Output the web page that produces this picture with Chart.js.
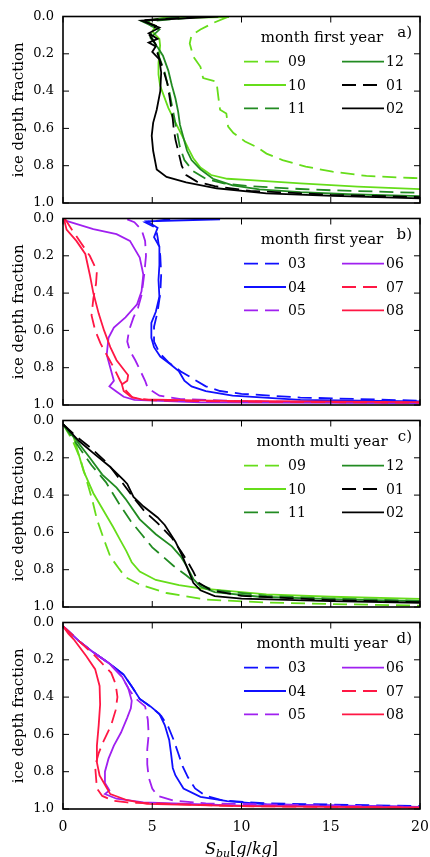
<!DOCTYPE html>
<html>
<head>
<meta charset="utf-8">
<script src="https://cdn.jsdelivr.net/npm/chart.js@4.4.1/dist/chart.umd.min.js"></script>
<style>
  html, body { margin: 0; padding: 0; background: #fff; }
  #wrap { position: relative; width: 430px; height: 857px; overflow: hidden; }
  canvas { position: absolute; left: 0; }
  #xlab { position: absolute; left: 63px; width: 357px; top: 840px; text-align: center;
          font: italic 16px 'DejaVu Serif', serif; line-height: 18px; color: #000; }
  #xlab sub { font-size: 11px; vertical-align: -3px; }
  #xlab .up { font-style: normal; }
</style>
</head>
<body>
<div id="wrap">
  <canvas id="panelA" width="440" height="223" style="top:-2px"></canvas>
  <canvas id="panelB" width="440" height="223" style="top:200px"></canvas>
  <canvas id="panelC" width="440" height="223" style="top:402px"></canvas>
  <canvas id="panelD" width="440" height="233" style="top:604px"></canvas>
  <div id="xlab"><i>S</i><sub><i>bu</i></sub><span class="up">[</span>g<span class="up">/</span>kg<span class="up">]</span></div>
</div>
<script>
// axis ticks
const xTicks = [0, 5, 10, 15, 20];
const yTicks = [0, 0.2, 0.4, 0.6, 0.8, 1.0];

// legend / styling per month
const monthsAutumn = ['09', '10', '11', '12', '01', '02'];
const monthsSpring = ['03', '04', '05', '06', '07', '08'];
const colorsAutumn = ['#66dd1a', '#66dd1a', '#228b22', '#228b22', '#000000', '#000000'];
const colorsSpring = ['#1010ff', '#1010ff', '#a020f0', '#a020f0', '#ff1744', '#ff1744'];
const dashed = [true, false, true, false, true, false];

const panelTitles = ['month first year', 'month first year', 'month multi year', 'month multi year'];
const panelTags = ['a)', 'b)', 'c)', 'd)'];

// profiles: [salinity g/kg, ice depth fraction]
// first year ice, Sep - Feb
const fy09 = [[9.2,0.003],[8.4,0.035],[7.7,0.07],[7.2,0.1],[7.1,0.145],[7.3,0.215],[7.7,0.27],[7.85,0.33],[8.6,0.35],[8.7,0.43],[8.8,0.5],[9.15,0.52],[9.25,0.59],[9.55,0.625],[10.2,0.67],[10.85,0.7],[11.4,0.735],[12.3,0.77],[13.6,0.805],[15.1,0.832],[17.0,0.855],[19.6,0.866],[20.5,0.869]];
const fy10 = [[9.3,0.003],[5.6,0.008],[4.6,0.025],[5.2,0.05],[5.0,0.08],[5.4,0.12],[5.44,0.155],[5.35,0.25],[5.35,0.31],[5.44,0.37],[5.63,0.42],[5.9,0.49],[6.28,0.565],[6.65,0.635],[7.03,0.71],[7.3,0.76],[7.7,0.81],[8.3,0.85],[9.2,0.87],[10.5,0.877],[13.3,0.895],[16.5,0.912],[20.5,0.928]];
const fy11 = [[7.2,0.006],[4.6,0.028],[5.1,0.06],[4.9,0.1],[5.2,0.15],[5.4,0.22],[5.7,0.3],[5.95,0.4],[6.15,0.5],[6.35,0.6],[6.55,0.7],[6.8,0.77],[7.3,0.83],[8.0,0.87],[9.0,0.895],[10.5,0.91],[13.3,0.925],[15.1,0.932],[20.5,0.947]];
const fy12 = [[6.5,0.004],[4.4,0.025],[5.4,0.07],[4.9,0.115],[5.3,0.165],[5.6,0.21],[5.9,0.29],[6.1,0.37],[6.3,0.44],[6.45,0.51],[6.55,0.58],[6.75,0.65],[6.95,0.72],[7.2,0.77],[7.7,0.82],[8.4,0.87],[9.5,0.905],[11,0.927],[13.3,0.942],[16,0.953],[20.5,0.965]];
const fy01 = [[7.7,0.002],[4.4,0.02],[5.2,0.05],[4.85,0.1],[5.2,0.15],[5.3,0.2],[5.6,0.28],[5.85,0.36],[6.0,0.45],[6.15,0.55],[6.2,0.6],[6.3,0.66],[6.5,0.74],[6.65,0.8],[6.9,0.85],[7.5,0.885],[8.5,0.91],[10.5,0.935],[15,0.956],[20.5,0.97]];
const fy02 = [[8.7,0.0],[4.4,0.022],[5.4,0.06],[4.8,0.09],[5.3,0.12],[4.8,0.14],[5.2,0.16],[5.0,0.19],[5.4,0.23],[5.5,0.3],[5.45,0.4],[5.25,0.5],[5.05,0.57],[4.97,0.64],[5.05,0.72],[5.25,0.82],[5.8,0.86],[6.9,0.89],[8.6,0.921],[11.4,0.948],[15.1,0.962],[20.5,0.976]];
// first year ice, Mar - Aug
const fy03 = [[6.0,0.003],[4.6,0.02],[5.2,0.05],[5.3,0.1],[5.45,0.2],[5.5,0.3],[5.45,0.4],[5.3,0.5],[5.1,0.58],[5.1,0.66],[5.4,0.72],[5.9,0.77],[6.6,0.82],[7.3,0.86],[8.0,0.9],[8.8,0.925],[10,0.94],[13.3,0.96],[20.5,0.978]];
const fy04 = [[8.8,0.004],[4.7,0.015],[5.3,0.05],[5.1,0.1],[5.4,0.15],[5.4,0.25],[5.35,0.33],[5.4,0.42],[5.2,0.5],[4.95,0.56],[4.95,0.64],[5.1,0.69],[5.45,0.74],[6.0,0.78],[6.5,0.82],[6.8,0.87],[7.2,0.9],[8.0,0.925],[9.5,0.95],[13.3,0.972],[20.5,0.982]];
const fy05 = [[3.6,0.005],[4.0,0.02],[4.4,0.06],[4.6,0.12],[4.65,0.2],[4.55,0.3],[4.4,0.41],[4.2,0.48],[3.95,0.53],[3.7,0.6],[3.6,0.66],[3.75,0.71],[4.05,0.76],[4.35,0.82],[4.6,0.87],[4.75,0.91],[5.4,0.95],[6.6,0.968],[10,0.98],[20.5,0.99]];
const fy06 = [[0.1,0.01],[1.7,0.057],[3.0,0.084],[3.75,0.12],[4.3,0.21],[4.5,0.3],[4.4,0.39],[4.15,0.46],[3.5,0.53],[2.85,0.585],[2.55,0.64],[2.45,0.73],[2.65,0.8],[2.85,0.87],[2.6,0.9],[2.95,0.925],[3.4,0.956],[4.0,0.972],[7.7,0.986],[20.5,0.99]];
const fy07 = [[0.1,0.0],[0.5,0.06],[1.0,0.13],[1.5,0.2],[1.9,0.28],[1.85,0.35],[1.7,0.43],[1.6,0.52],[1.8,0.6],[2.1,0.67],[2.5,0.74],[2.85,0.8],[3.2,0.87],[3.5,0.92],[3.9,0.96],[5,0.975],[10,0.982],[20.5,0.988]];
const fy08 = [[0.05,0.0],[0.2,0.06],[0.75,0.12],[1.25,0.19],[1.5,0.3],[1.7,0.4],[2.0,0.51],[2.3,0.6],[2.65,0.69],[3.0,0.76],[3.4,0.81],[3.65,0.84],[3.6,0.87],[3.3,0.89],[3.4,0.925],[3.8,0.956],[4.4,0.97],[9,0.978],[20.5,0.985]];
// multi year ice, Sep - Feb
const my09 = [[0,0.02],[0.5,0.1],[0.95,0.2],[1.35,0.33],[1.65,0.43],[1.9,0.53],[2.3,0.64],[2.65,0.73],[3.1,0.79],[3.5,0.84],[4.3,0.88],[5.8,0.925],[8,0.96],[11.4,0.976],[15,0.984],[20.5,0.994]];
const my10 = [[0,0.02],[0.6,0.09],[1.15,0.27],[1.7,0.39],[2.25,0.48],[2.8,0.57],[3.2,0.64],[3.55,0.7],[3.85,0.76],[4.3,0.81],[5.2,0.855],[6.5,0.883],[7.7,0.9],[11.4,0.932],[15,0.945],[20.5,0.958]];
const my11 = [[0,0.02],[0.8,0.13],[1.6,0.24],[2.4,0.33],[3.1,0.44],[3.8,0.54],[4.4,0.61],[5.0,0.68],[5.6,0.73],[6.2,0.78],[6.9,0.83],[7.4,0.87],[8.5,0.91],[11.4,0.94],[15,0.955],[20.5,0.968]];
const my12 = [[0,0.02],[0.7,0.1],[1.5,0.2],[2.2,0.29],[3.0,0.36],[3.5,0.42],[4.3,0.53],[5.2,0.61],[6.1,0.675],[6.6,0.73],[6.95,0.785],[7.3,0.85],[7.7,0.89],[8.5,0.92],[11,0.945],[15,0.958],[20.5,0.97]];
const my01 = [[0,0.02],[0.8,0.09],[1.6,0.15],[2.5,0.23],[3.3,0.33],[4.0,0.42],[4.6,0.49],[5.3,0.55],[6.1,0.63],[6.6,0.7],[7.0,0.76],[7.3,0.81],[7.6,0.87],[8.3,0.91],[10,0.94],[15,0.963],[20.5,0.975]];
const my02 = [[0,0.02],[0.9,0.11],[1.7,0.175],[2.6,0.245],[3.4,0.32],[3.6,0.34],[3.95,0.41],[4.5,0.46],[5.3,0.52],[5.7,0.56],[6.3,0.65],[6.7,0.73],[7.05,0.81],[7.3,0.87],[7.7,0.91],[8.5,0.942],[10,0.955],[15,0.968],[20.5,0.978]];
// multi year ice, Mar - Aug
const my03 = [[0,0.02],[0.9,0.1],[1.7,0.16],[2.6,0.22],[3.4,0.28],[3.9,0.35],[4.3,0.41],[4.9,0.45],[5.5,0.5],[5.9,0.56],[6.2,0.63],[6.45,0.7],[6.7,0.77],[7.0,0.83],[7.4,0.89],[8.0,0.93],[9.0,0.955],[11.4,0.97],[20.5,0.985]];
const my04 = [[0,0.02],[0.9,0.1],[1.7,0.16],[2.6,0.22],[3.4,0.28],[3.9,0.35],[4.3,0.41],[4.9,0.45],[5.4,0.49],[5.7,0.55],[5.95,0.63],[6.05,0.7],[6.15,0.78],[6.3,0.82],[6.75,0.89],[7.7,0.935],[9.2,0.958],[11.4,0.975],[20.5,0.99]];
const my05 = [[0,0.02],[0.9,0.1],[1.7,0.16],[2.6,0.22],[3.3,0.29],[3.7,0.36],[4.1,0.41],[4.6,0.45],[4.75,0.52],[4.8,0.6],[4.72,0.68],[4.72,0.76],[4.8,0.83],[5.0,0.89],[5.3,0.93],[6.2,0.955],[8,0.97],[20.5,0.99]];
const my06 = [[0,0.02],[0.9,0.1],[1.7,0.16],[2.6,0.22],[3.3,0.29],[3.65,0.35],[3.85,0.42],[3.8,0.46],[3.6,0.51],[3.25,0.59],[2.85,0.66],[2.55,0.73],[2.35,0.8],[2.35,0.86],[2.6,0.9],[2.35,0.92],[3.0,0.945],[4.5,0.965],[10,0.982],[20.5,0.99]];
const my07 = [[0,0.02],[0.9,0.1],[1.7,0.17],[2.3,0.23],[2.7,0.27],[2.95,0.33],[3.05,0.4],[2.95,0.47],[2.7,0.55],[2.3,0.63],[2.0,0.7],[1.8,0.77],[1.85,0.83],[1.9,0.89],[2.2,0.93],[2.8,0.955],[3.6,0.965],[10,0.985],[20.5,0.993]];
const my08 = [[0,0.02],[0.3,0.06],[0.6,0.09],[1.3,0.18],[1.8,0.25],[2.05,0.34],[2.08,0.44],[2.0,0.55],[1.9,0.66],[1.9,0.75],[2.05,0.82],[2.35,0.87],[2.65,0.92],[3.6,0.953],[4.7,0.972],[10,0.985],[20.5,0.993]];

Chart.defaults.font.family = "'DejaVu Serif', serif";
Chart.defaults.font.size = 13;
Chart.defaults.color = '#000';

function frameAndLegend(title, tag) {
    return {
        id: 'frameAndLegend',
        afterDraw(chart) {
            const ctx = chart.ctx;
            const a = chart.chartArea;
            const xs = chart.scales.x, ys = chart.scales.y;
            ctx.save();
            // inward ticks on all four sides
            ctx.strokeStyle = '#000';
            ctx.lineWidth = 1;
            ctx.beginPath();
            xTicks.forEach(v => {
                const px = xs.getPixelForValue(v);
                ctx.moveTo(px, a.bottom); ctx.lineTo(px, a.bottom - 6);
                ctx.moveTo(px, a.top); ctx.lineTo(px, a.top + 6);
            });
            yTicks.forEach(v => {
                const py = ys.getPixelForValue(v);
                ctx.moveTo(a.left, py); ctx.lineTo(a.left + 6, py);
                ctx.moveTo(a.right, py); ctx.lineTo(a.right - 6, py);
            });
            ctx.stroke();
            ctx.lineWidth = 1.6;
            ctx.strokeRect(a.left, a.top, a.right - a.left, a.bottom - a.top);

            // legend inside upper right
            ctx.fillStyle = '#000';
            ctx.textBaseline = 'middle';
            ctx.font = "15px 'DejaVu Serif'";
            ctx.textAlign = 'center';
            ctx.fillText(title, a.right - 98, a.top + 21.5);
            ctx.textAlign = 'right';
            ctx.fillText(tag, a.right - 8, a.top + 16.5);
            ctx.textAlign = 'left';
            ctx.font = "14px 'DejaVu Serif'";
            chart.data.datasets.forEach((ds, i) => {
                const col = Math.floor(i / 3), row = i % 3;
                const yy = a.top + 45.2 + row * 23.3;
                const x0 = a.right - (col ? 78 : 176);
                ctx.strokeStyle = ds.borderColor;
                ctx.lineWidth = ds.borderWidth;
                ctx.setLineDash(ds.borderDash);
                ctx.beginPath();
                ctx.moveTo(x0, yy);
                ctx.lineTo(x0 + 42, yy);
                ctx.stroke();
                ctx.setLineDash([]);
                ctx.fillText(ds.label, x0 + 44, yy + 1);
            });
            ctx.restore();
        }
    };
}

function drawPanel(id, series, months, colors, title, tag, showX) {
    const datasets = series.map((pts, i) => ({
        label: months[i],
        data: pts,
        borderColor: colors[i],
        borderWidth: 1.8,
        borderDash: dashed[i] ? [14, 7] : [],
        pointRadius: 0,
        showLine: true,
        fill: false,
        order: series.length - i
    }));

    const xScale = {
        type: 'linear', min: 0, max: 20, display: showX,
        afterBuildTicks: s => { s.ticks = xTicks.map(v => ({ value: v })); },
        grid: { display: false, drawTicks: false },
        border: { display: false },
        ticks: { padding: 10, maxRotation: 0, font: { size: 14 } }
    };
    if (showX) {
        xScale.afterFit = s => { s.height = 28; };
    }

    return new Chart(document.getElementById(id), {
        type: 'scatter',
        data: { datasets: datasets },
        options: {
            responsive: false,
            animation: false,
            events: [],
            // chart area: left 63, right 420, 186.5 px high
            layout: { padding: { top: 18.5, right: 20, bottom: showX ? 0 : 18, left: 0 } },
            plugins: { legend: { display: false }, tooltip: { enabled: false } },
            scales: {
                x: xScale,
                y: {
                    type: 'linear', min: 0, max: 1, reverse: true,
                    afterBuildTicks: s => { s.ticks = yTicks.map(v => ({ value: v })); },
                    afterFit: s => { s.width = 63; },
                    grid: { display: false, drawTicks: false },
                    border: { display: false },
                    ticks: { padding: 9, callback: v => v.toFixed(1) },
                    title: { display: true, text: 'ice depth fraction', font: { size: 15 }, padding: { top: 10, bottom: 0 } }
                }
            }
        },
        plugins: [frameAndLegend(title, tag)]
    });
}

drawPanel('panelA', [fy09, fy10, fy11, fy12, fy01, fy02], monthsAutumn, colorsAutumn, panelTitles[0], panelTags[0], false);
drawPanel('panelB', [fy03, fy04, fy05, fy06, fy07, fy08], monthsSpring, colorsSpring, panelTitles[1], panelTags[1], false);
drawPanel('panelC', [my09, my10, my11, my12, my01, my02], monthsAutumn, colorsAutumn, panelTitles[2], panelTags[2], false);
drawPanel('panelD', [my03, my04, my05, my06, my07, my08], monthsSpring, colorsSpring, panelTitles[3], panelTags[3], true);
</script>
</body>
</html>
